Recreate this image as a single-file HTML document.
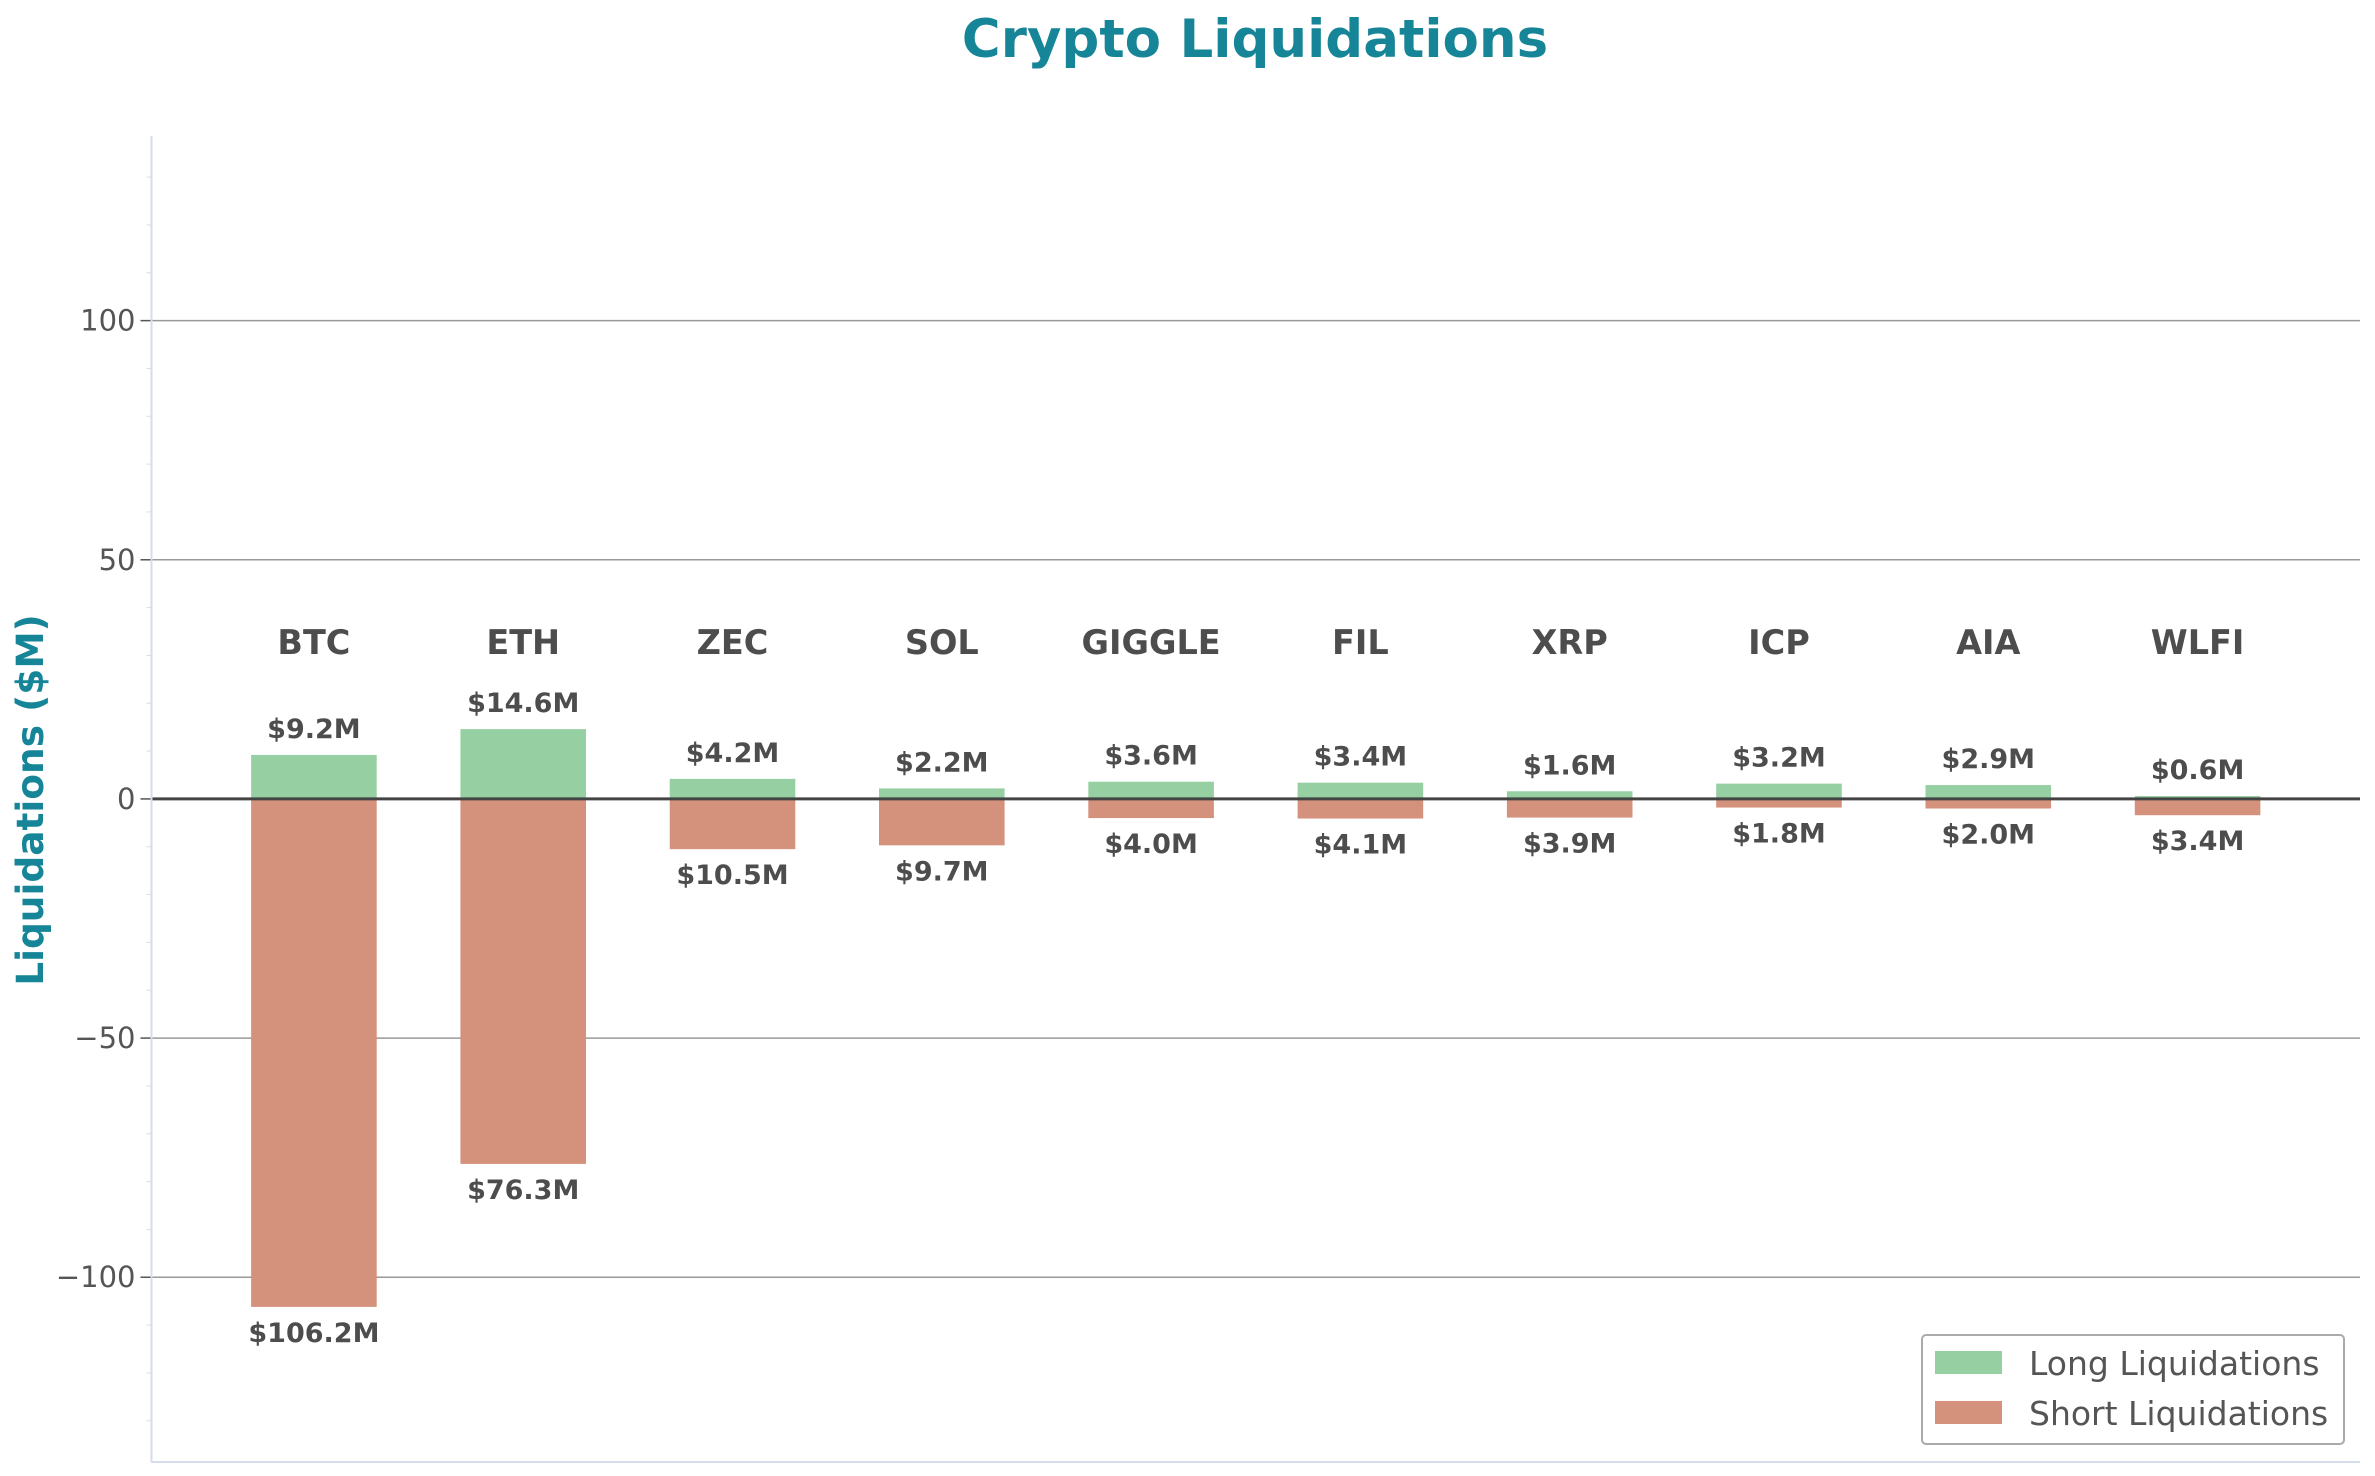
<!DOCTYPE html>
<html><head><meta charset="utf-8"><style>
html,body{margin:0;padding:0;background:#fff;}
svg{display:block;font-family:"DejaVu Sans","Liberation Sans",sans-serif;}
</style></head><body>
<svg id="chart" width="2375" height="1476" viewBox="0 0 2375 1476" xmlns="http://www.w3.org/2000/svg">
<text x="1255" y="57" text-anchor="middle" font-size="53" font-weight="bold" fill="#168598">Crypto Liquidations</text>
<text transform="translate(43,800) rotate(-90)" text-anchor="middle" font-size="37.5" font-weight="bold" fill="#168598">Liquidations ($M)</text>
<g id="grid"></g><g id="bars"></g><g id="labels"></g>
<line id="zero" x1="151" x2="2360" stroke="#444" stroke-width="3"/>
<line x1="151.5" y1="136" x2="151.5" y2="1462" stroke="#d5dcea" stroke-width="2"/>
<line x1="151" y1="1462" x2="2360" y2="1462" stroke="#d5dcea" stroke-width="2"/>
<g>
<rect x="1922" y="1335" width="422" height="109" rx="4" fill="#fff" stroke="#aaa" stroke-width="2"/>
<rect x="1935" y="1351" width="67" height="23" fill="#95cfa2"/>
<text x="2029" y="1375" font-size="33" fill="#555">Long Liquidations</text>
<rect x="1935" y="1401" width="67" height="23" fill="#d4917b"/>
<text x="2029" y="1425" font-size="33" fill="#555">Short Liquidations</text>
</g>
</svg>
<script>
const categories = ["BTC","ETH","ZEC","SOL","GIGGLE","FIL","XRP","ICP","AIA","WLFI"];
const longVals = [9.2,14.6,4.2,2.2,3.6,3.4,1.6,3.2,2.9,0.6];
const shortVals = [106.2,76.3,10.5,9.7,4.0,4.1,3.9,1.8,2.0,3.4];
const yTicks = [-100,-50,0,50,100];
const NS="http://www.w3.org/2000/svg";
const L=151.5,R=2360,T=136,B=1459;
const ymax=138.6,ymin=-138.0;
const xmin=-0.776,xmax=categories.length-1+0.776;
const X=v=>L+(v-xmin)/(xmax-xmin)*(R-L);
const Y=v=>T+(ymax-v)/(ymax-ymin)*(B-T);
const bw=(X(0.6)-X(0));
function mk(tag,attrs,parent,txt){const e=document.createElementNS(NS,tag);for(const k in attrs)e.setAttribute(k,attrs[k]);if(txt!==undefined)e.textContent=txt;parent.appendChild(e);return e;}
const grid=document.getElementById('grid'),bars=document.getElementById('bars'),labels=document.getElementById('labels');
document.getElementById('zero').setAttribute('y1',Y(0));document.getElementById('zero').setAttribute('y2',Y(0));
for(let m=-130;m<=130;m+=10){const t=mk('line',{x1:L-5,x2:L,y1:Y(m),y2:Y(m),stroke:'#ddd','stroke-width':1},grid);

}
yTicks.forEach(v=>{
 const g=mk('line',{x1:L,x2:R,y1:Y(v),y2:Y(v),stroke:'#999','stroke-width':1.5},grid);
 
 
 const tk=mk('line',{x1:L-11,x2:L,y1:Y(v),y2:Y(v),stroke:'#555','stroke-width':1.5},grid);
 
 
 const tl=mk('text',{x:L-16,y:Y(v)+10,'text-anchor':'end','font-size':29,fill:'#555'},grid,v<0?'\u2212'+Math.abs(v):String(v));
 
 
});
categories.forEach((c,i)=>{
 const cx=X(i);
 const gl=mk('rect',{x:cx-bw/2,y:Y(longVals[i]),width:bw,height:Y(0)-Y(longVals[i]),fill:'#95cfa2'},bars);
 
 
 const sr=mk('rect',{x:cx-bw/2,y:Y(0),width:bw,height:Y(-shortVals[i])-Y(0),fill:'#d4917b'},bars);
 
 
 const cl=mk('text',{x:cx,y:654,'text-anchor':'middle','font-size':33.5,'font-weight':'bold',fill:'#4d4d4d'},labels,c);
 
 
 const lv=mk('text',{x:cx,y:Y(longVals[i])-17,'text-anchor':'middle','font-size':27,'font-weight':'bold',fill:'#4d4d4d'},labels,'$'+longVals[i].toFixed(1)+'M');
 
 
 const sv=mk('text',{x:cx,y:Y(-shortVals[i])+35,'text-anchor':'middle','font-size':27,'font-weight':'bold',fill:'#4d4d4d'},labels,'$'+shortVals[i].toFixed(1)+'M');
 
 
});
</script>
</body></html>
